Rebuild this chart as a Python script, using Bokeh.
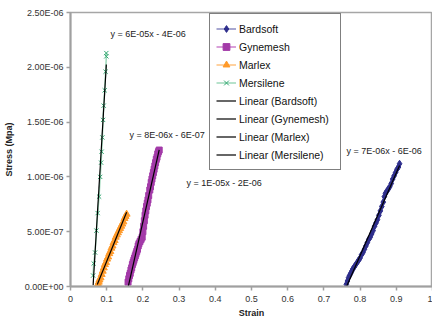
import numpy as np
from bokeh.plotting import figure
from bokeh.models import Range1d, FixedTicker, Legend, LegendItem, Label
from bokeh.embed import file_html
from bokeh.resources import INLINE

# ---------------- data ----------------
bardsoft_strain = [0.762, 0.765, 0.768, 0.771, 0.774, 0.777, 0.780, 0.784, 0.788, 0.792,
                   0.796, 0.800, 0.804, 0.808, 0.812, 0.816, 0.820, 0.824, 0.828, 0.832,
                   0.836, 0.840, 0.844, 0.848, 0.852, 0.856, 0.860, 0.864, 0.867, 0.870,
                   0.874, 0.878, 0.882, 0.886, 0.890, 0.894, 0.898, 0.902, 0.906, 0.909]
bardsoft_stress = [0.02e-6, 0.05e-6, 0.08e-6, 0.10e-6, 0.12e-6, 0.14e-6, 0.16e-6, 0.18e-6, 0.20e-6, 0.22e-6,
                   0.24e-6, 0.26e-6, 0.29e-6, 0.31e-6, 0.34e-6, 0.37e-6, 0.40e-6, 0.43e-6, 0.45e-6, 0.48e-6,
                   0.51e-6, 0.55e-6, 0.58e-6, 0.61e-6, 0.65e-6, 0.69e-6, 0.73e-6, 0.77e-6, 0.82e-6, 0.85e-6,
                   0.87e-6, 0.89e-6, 0.91e-6, 0.94e-6, 0.98e-6, 1.01e-6, 1.04e-6, 1.07e-6, 1.09e-6, 1.12e-6]

gynemesh_strain = [0.159, 0.161, 0.163, 0.165, 0.167, 0.169, 0.171, 0.173, 0.175, 0.177,
                   0.179, 0.181, 0.183, 0.185, 0.187, 0.189, 0.192, 0.195, 0.198, 0.200,
                   0.202, 0.204, 0.206, 0.208, 0.210, 0.212, 0.214, 0.216, 0.219, 0.221,
                   0.223, 0.225, 0.227, 0.229, 0.231, 0.233, 0.235, 0.237, 0.239, 0.241,
                   0.243, 0.245]
gynemesh_stress = [0.04e-6, 0.07e-6, 0.10e-6, 0.12e-6, 0.15e-6, 0.17e-6, 0.20e-6, 0.22e-6, 0.24e-6, 0.26e-6,
                   0.28e-6, 0.30e-6, 0.32e-6, 0.34e-6, 0.37e-6, 0.39e-6, 0.41e-6, 0.43e-6, 0.45e-6, 0.50e-6,
                   0.55e-6, 0.60e-6, 0.65e-6, 0.69e-6, 0.73e-6, 0.76e-6, 0.79e-6, 0.83e-6, 0.88e-6, 0.91e-6,
                   0.95e-6, 0.98e-6, 1.01e-6, 1.04e-6, 1.07e-6, 1.10e-6, 1.13e-6, 1.16e-6, 1.18e-6, 1.21e-6,
                   1.23e-6, 1.245e-6]

marlex_strain = [0.074, 0.076, 0.078, 0.080, 0.083, 0.086, 0.089, 0.092, 0.095, 0.098,
                 0.101, 0.104, 0.107, 0.110, 0.113, 0.116, 0.119, 0.122, 0.125, 0.128,
                 0.131, 0.134, 0.137, 0.140, 0.143, 0.146, 0.149, 0.152, 0.155]
marlex_stress = [0.00e-6, 0.02e-6, 0.04e-6, 0.06e-6, 0.08e-6, 0.11e-6, 0.14e-6, 0.17e-6, 0.20e-6, 0.22e-6,
                 0.25e-6, 0.27e-6, 0.30e-6, 0.32e-6, 0.35e-6, 0.37e-6, 0.40e-6, 0.42e-6, 0.45e-6, 0.47e-6,
                 0.49e-6, 0.51e-6, 0.53e-6, 0.55e-6, 0.57e-6, 0.59e-6, 0.62e-6, 0.64e-6, 0.66e-6]

mersilene_strain = [0.0625, 0.064, 0.068, 0.0716, 0.075, 0.079, 0.082, 0.0846, 0.086, 0.088,
                    0.090, 0.0917, 0.0945, 0.097, 0.099, 0.099]
mersilene_stress = [0.10e-6, 0.21e-6, 0.31e-6, 0.51e-6, 0.67e-6, 0.82e-6, 1.00e-6, 1.13e-6, 1.23e-6, 1.36e-6,
                    1.52e-6, 1.65e-6, 1.79e-6, 1.96e-6, 2.10e-6, 2.13e-6]

series_names = ["Bardsoft", "Gynemesh", "Marlex", "Mersilene"]
trend_labels = ["y = 7E-06x - 6E-06", "y = 1E-05x - 2E-06", "y = 8E-06x - 6E-07", "y = 6E-05x - 4E-06"]

y_ticks = [0, 0.5e-6, 1.0e-6, 1.5e-6, 2.0e-6, 2.5e-6]
y_tick_labels = ["0.00E+00", "5.00E-07", "1.00E-06", "1.50E-06", "2.00E-06", "2.50E-06"]
x_ticks = [0, 0.1, 0.2, 0.3, 0.4, 0.5, 0.6, 0.7, 0.8, 0.9, 1.0]
x_tick_labels = ["0", "0.1", "0.2", "0.3", "0.4", "0.5", "0.6", "0.7", "0.8", "0.9", "1"]

# ---------------- figure ----------------
FONT = "Liberation Sans"
p = figure(width=432, height=323, output_backend="svg", toolbar_location=None,
           x_range=Range1d(0, 1), y_range=Range1d(0, 2.5e-6),
           min_border_left=70, min_border_right=0, min_border_top=12, min_border_bottom=37)
p.background_fill_color = "white"
p.border_fill_color = "white"
p.outline_line_color = "#A6A6A6"
p.outline_line_width = 1.5
p.xgrid.visible = False
p.ygrid.visible = False

for ax in (p.xaxis[0], p.yaxis[0]):
    ax.axis_line_color = "#A0A0A0"
    ax.axis_line_width = 2
    ax.major_tick_line_color = "#A0A0A0"
    ax.major_tick_line_width = 1.5
    ax.major_tick_in = 0
    ax.major_tick_out = 4
    ax.minor_tick_line_color = None
    ax.major_label_text_font = FONT
    ax.major_label_text_font_size = "9px"
    ax.major_label_text_color = "#333333"
    ax.axis_label_text_font = FONT
    ax.axis_label_text_font_size = "9px"
    ax.axis_label_text_font_style = "bold"
    ax.axis_label_text_color = "#222222"

p.yaxis[0].ticker = FixedTicker(ticks=y_ticks)
p.yaxis[0].major_label_overrides = dict(zip(y_ticks, y_tick_labels))
p.yaxis[0].major_label_standoff = 3
p.yaxis[0].axis_label = "Stress (Mpa)"
p.yaxis[0].axis_label_standoff = 8

p.xaxis[0].ticker = FixedTicker(ticks=x_ticks)
p.xaxis[0].major_label_overrides = dict(zip(x_ticks, x_tick_labels))
p.xaxis[0].major_label_standoff = 5
p.xaxis[0].axis_label = "Strain"
p.xaxis[0].axis_label_standoff = 3

data = [(bardsoft_strain, bardsoft_stress), (gynemesh_strain, gynemesh_stress),
        (marlex_strain, marlex_stress), (mersilene_strain, mersilene_stress)]
marker_cols = ["#2E2E8C", "#A33AA8", "#FF9A2A", "#33A872"]
line_cols = ["#8A8AC0", "#CC80CC", "#FFC27F", "#9ED9BA"]
markers = ["diamond", "square", "triangle", "x"]
sizes = [7, 6, 7, 6]

series_items = []
trend_items = []
for name, (xs, ys), mc, lc, mk, sz in zip(series_names, data, marker_cols, line_cols, markers, sizes):
    lr = p.line(xs, ys, line_color=lc, line_width=1.5)
    sr = p.scatter(xs, ys, marker=mk, size=sz, fill_color=mc, line_color=mc, line_width=1)
    series_items.append(LegendItem(label=name, renderers=[lr, sr]))

for name, (xs, ys) in zip(series_names, data):
    k, b = np.polyfit(xs, ys, 1)
    xx = [min(xs), max(xs)]
    yy = [k * v + b for v in xx]
    tr = p.line(xx, yy, line_color="black", line_width=1.2)
    trend_items.append(LegendItem(label="Linear (%s)" % name, renderers=[tr]))

# trendline equation labels (data coordinates)
label_pos = [(0.7624, 1.234e-6), (0.3204, 0.9415e-6), (0.163, 1.380e-6), (0.1105, 2.303e-6)]
for txt, (lx, ly) in zip(trend_labels, label_pos):
    p.add_layout(Label(x=lx, y=ly, text=txt, text_font=FONT, text_font_size="9px",
                       text_color="#222222", text_baseline="middle", text_align="left"))

legend = Legend(items=series_items + trend_items, location=(139, 116),
                label_text_font=FONT, label_text_font_size="10.5px", label_text_color="#111111",
                glyph_width=20, glyph_height=17, label_height=17, label_width=95,
                label_standoff=3, spacing=1, padding=6, margin=0,
                border_line_color="black", border_line_width=1,
                background_fill_color="white", background_fill_alpha=1)
p.add_layout(legend, "center")

open("out.html", "w").write(file_html(p, INLINE))
